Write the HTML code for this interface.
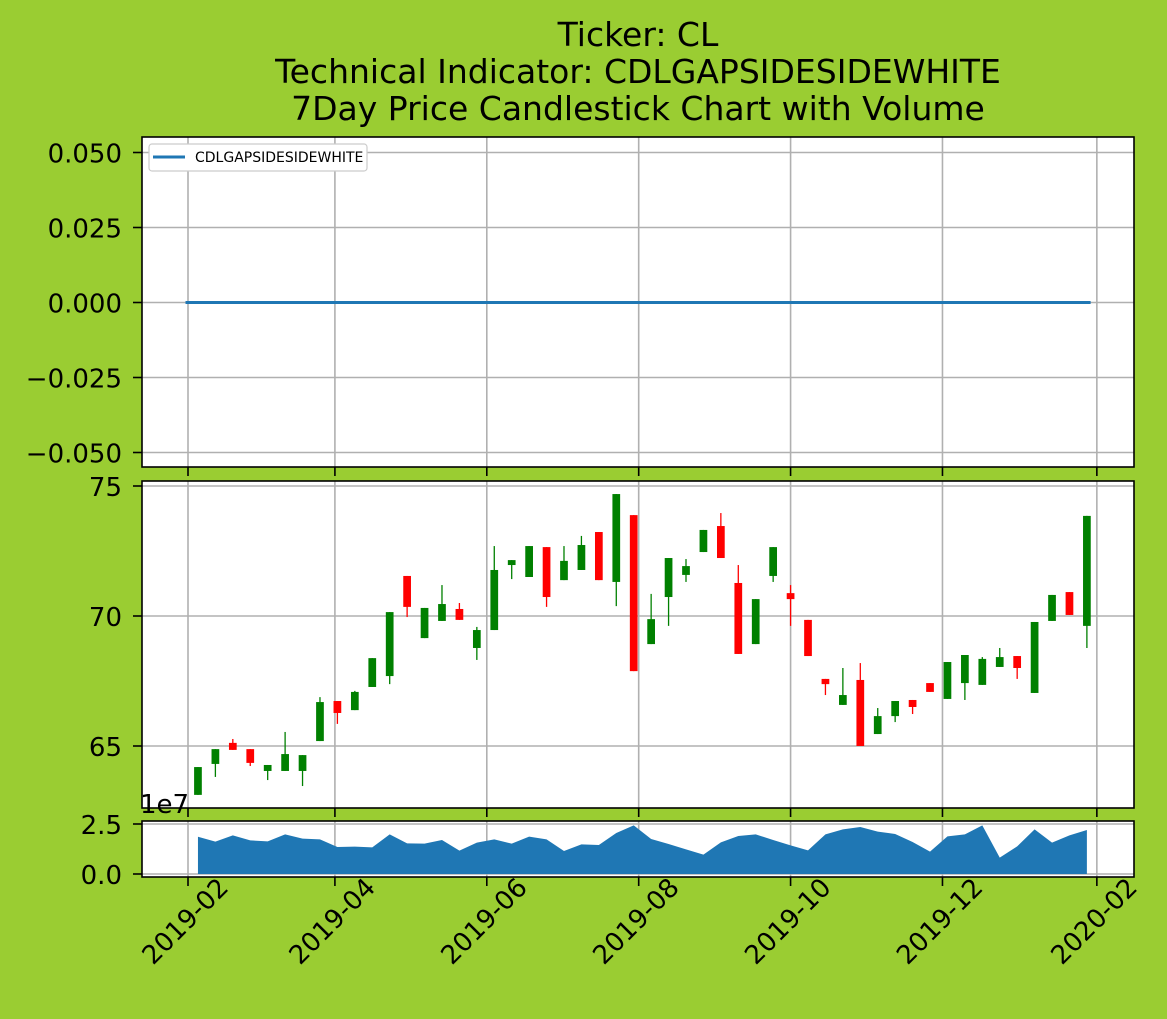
<!DOCTYPE html>
<html><head><meta charset="utf-8"><style>
html,body{margin:0;padding:0;background:#9acd32;}
svg{display:block;font-family:"DejaVu Sans","Liberation Sans",sans-serif;}
</style></head><body>
<svg id="chart" width="1167" height="1019" viewBox="0 0 1167 1019">
<rect width="1167" height="1019" fill="#9acd32"/>
<text x="638" y="46" font-size="33" text-anchor="middle">Ticker: CL</text>
<text x="638" y="83" font-size="33" text-anchor="middle">Technical Indicator: CDLGAPSIDESIDEWHITE</text>
<text x="638" y="120" font-size="33" text-anchor="middle">7Day Price Candlestick Chart with Volume</text>
<g id="g"></g>
</svg>
<script>
const dayOffsets = [4,11,18,25,32,39,46,53,60,67,74,81,88,95,102,109,116,123,130,137,144,151,158,165,172,179,186,193,200,207,214,221,228,235,242,249,256,263,270,277,284,291,298,305,312,319,326,333,340,347,354,361];
const opens  = [63.12,64.31,65.12,64.88,64.04,64.04,64.04,65.19,66.73,66.38,67.27,67.69,71.54,69.15,69.81,70.27,68.77,69.46,71.96,71.5,72.65,71.38,71.77,73.23,71.31,73.88,68.92,70.73,71.58,72.46,73.46,71.27,68.92,71.54,70.88,69.85,67.58,66.58,67.54,65.46,66.15,66.77,67.42,66.81,67.42,67.35,68.04,68.46,67.04,69.81,70.92,69.62];
const closes = [64.19,64.88,64.85,64.35,64.27,64.69,64.65,66.69,66.27,67.08,68.38,70.15,70.35,70.31,70.46,69.85,69.46,71.77,72.15,72.69,70.73,72.12,72.73,71.38,74.69,67.88,69.88,72.23,71.92,73.31,72.23,68.54,70.65,72.65,70.65,68.46,67.38,66.96,65.0,66.15,66.73,66.5,67.08,68.23,68.5,68.35,68.42,68.0,69.77,70.81,70.04,73.85];
const highs  = [64.19,64.88,65.27,64.88,64.27,65.54,64.65,66.88,66.73,67.12,68.38,70.15,71.54,70.31,71.19,70.5,69.58,72.69,72.15,72.69,72.65,72.69,73.08,73.23,74.69,73.88,70.85,72.23,72.19,73.31,73.96,71.96,70.65,72.65,71.19,69.85,67.58,68.0,68.19,66.46,66.73,66.77,67.42,68.23,68.5,68.42,68.77,68.46,69.77,70.81,70.92,73.85];
const lows   = [63.12,63.81,64.85,64.23,63.69,64.04,63.46,65.19,65.85,66.38,67.27,67.38,69.96,69.15,69.81,69.85,68.31,69.46,71.42,71.5,70.35,71.38,71.77,71.38,70.38,67.88,68.92,69.62,71.31,72.46,72.23,68.54,68.92,71.31,69.62,68.46,66.96,66.58,65.0,65.46,65.92,66.23,67.08,66.81,66.77,67.35,68.04,67.58,67.04,69.81,70.04,68.77];
const volumes = [1.86,1.62,1.93,1.68,1.63,1.98,1.77,1.73,1.35,1.37,1.33,1.98,1.53,1.52,1.70,1.17,1.57,1.73,1.52,1.87,1.73,1.15,1.48,1.45,2.05,2.43,1.75,1.50,1.23,0.97,1.58,1.9,1.98,1.70,1.43,1.18,1.98,2.23,2.35,2.12,2.0,1.6,1.12,1.88,1.98,2.43,0.82,1.38,2.23,1.57,1.93,2.2];
const indicatorValues = [0,0];
const indicatorDays = [-1,362.5];
const xTickDays = [0,59,120,181,242,303,365];
const xTickLabels = ["2019-02","2019-04","2019-06","2019-08","2019-10","2019-12","2020-02"];
const y1Ticks = [0.05,0.025,0,-0.025,-0.05];
const y1Labels = ["0.050","0.025","0.000","\u22120.025","\u22120.050"];
const y2Ticks = [65,70,75];
const y3Ticks = [0,2.5];
const y3Labels = ["0.0","2.5"];

const NS="http://www.w3.org/2000/svg";
const g=document.getElementById('g');
const L=142,R=1134;
const x=d=>188+d*2.49;
const y1=v=>302.5-v*3000;
const y2=v=>486-(v-75)*26;
const y3=v=>874-v*20;
function mk(t,a,p){const e=document.createElementNS(NS,t);for(const k in a)e.setAttribute(k,a[k]);(p||g).appendChild(e);return e;}
const panels=[[137,467,"indicator-panel"],[481,808,"price-panel"],[821,877,"volume-panel"]];
panels.forEach(([t,b,n])=>{
  const r=mk('rect',{x:L,y:t,width:R-L,height:b-t,fill:'#fff'});
  
  
  xTickDays.forEach(d=>{
    const l=mk('line',{x1:x(d),x2:x(d),y1:t,y2:b,stroke:'#b0b0b0','stroke-width':1.6});
    
    
    const tk=mk('line',{x1:x(d),x2:x(d),y1:b,y2:b+9,stroke:'#000','stroke-width':1.6});
    
    
  });
});
function yaxis(ticks,labels,f,name){
  ticks.forEach((v,i)=>{
    const yy=f(v);
    const gl=mk('line',{x1:L,x2:R,y1:yy,y2:yy,stroke:'#b0b0b0','stroke-width':1.6});
    
    
    const tk=mk('line',{x1:L-9,x2:L,y1:yy,y2:yy,stroke:'#000','stroke-width':1.6});
    
    
    const tx=mk('text',{x:L-20,y:yy+10,'font-size':26,'text-anchor':'end'});
    tx.textContent=labels[i];
    
    
  });
}
yaxis(y1Ticks,y1Labels,y1,'indicator-y');
yaxis(y2Ticks,y2Ticks.map(String),y2,'price-y');
yaxis(y3Ticks,y3Labels,y3,'volume-y');
const il=mk('polyline',{points:indicatorDays.map((d,i)=>x(d)+','+y1(indicatorValues[i])).join(' '),fill:'none',stroke:'#1f77b4','stroke-width':3});


const lg=mk('g',{});


mk('rect',{x:149,y:144,width:218,height:27,rx:3,fill:'#fff',stroke:'#ccc','stroke-width':1.2},lg);
mk('line',{x1:153,x2:185,y1:157,y2:157,stroke:'#1f77b4','stroke-width':3},lg);
const lt=mk('text',{x:195,y:162,'font-size':14},lg);
lt.textContent='CDLGAPSIDESIDEWHITE';


const w=3.1*2.49;
dayOffsets.forEach((d,i)=>{
  const up=closes[i]>=opens[i];const c=up?'#008000':'#ff0000';
  const cg=mk('g',{});
  
  
  mk('line',{x1:x(d),x2:x(d),y1:y2(highs[i]),y2:y2(lows[i]),stroke:c,'stroke-width':1.3},cg);
  const top=y2(Math.max(opens[i],closes[i])),bot=y2(Math.min(opens[i],closes[i]));
  mk('rect',{x:x(d)-w/2,y:top,width:w,height:Math.max(bot-top,1),fill:c},cg);
});
const pts=[x(dayOffsets[0])+','+y3(0)].concat(dayOffsets.map((d,i)=>x(d)+','+y3(volumes[i]))).concat([x(dayOffsets[dayOffsets.length-1])+','+y3(0)]);
const va=mk('polygon',{points:pts.join(' '),fill:'#1f77b4'});


panels.forEach(([t,b])=>{mk('rect',{x:L,y:t,width:R-L,height:b-t,fill:'none',stroke:'#000','stroke-width':1.6});});
const ex=mk('text',{x:140,y:813,'font-size':26});
ex.textContent='1e7';


xTickDays.forEach((d,i)=>{
  const t=mk('text',{'font-size':26,'text-anchor':'middle',dy:'0.35em',transform:'translate('+(x(d)-3)+',921) rotate(-45)'});
  t.textContent=xTickLabels[i];
  
  
});
</script>
</body></html>
